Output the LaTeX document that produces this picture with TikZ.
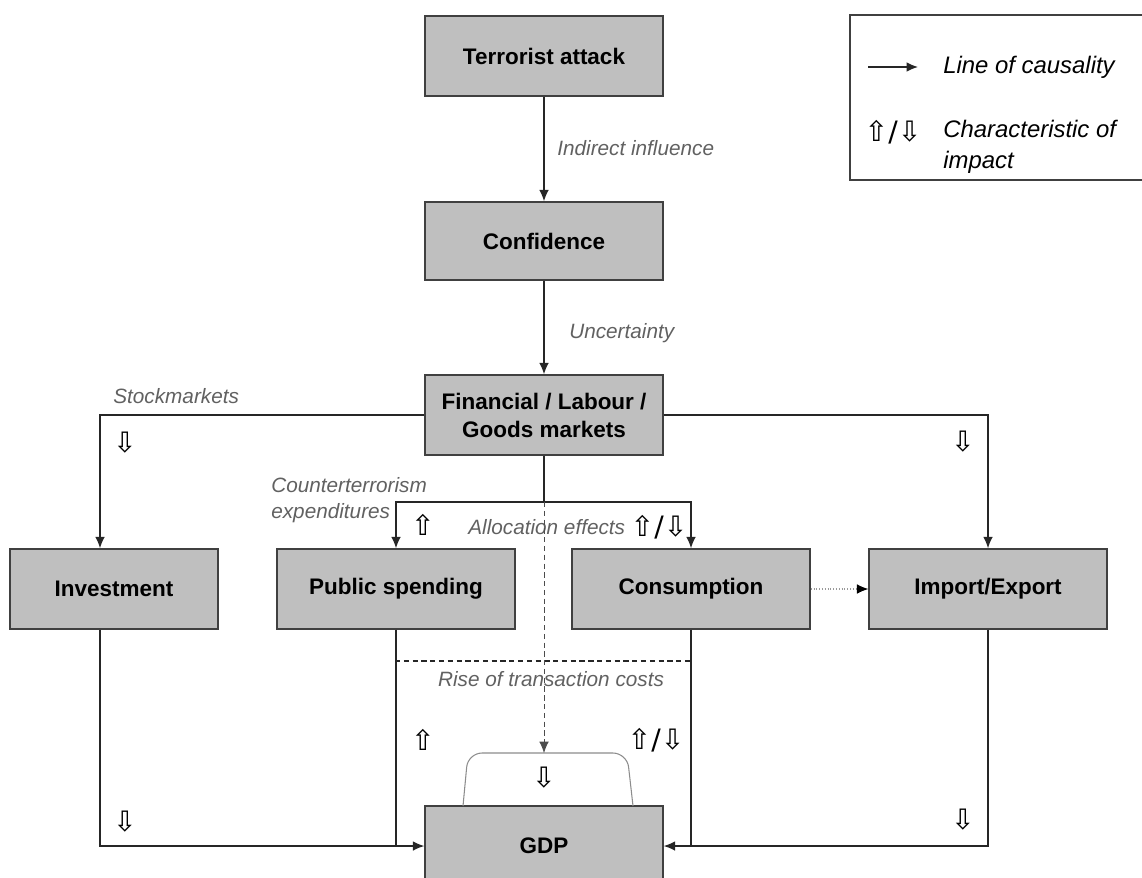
\documentclass[tikz,border=0pt]{standalone}
\usepackage{fontspec}
\setmainfont{Liberation Sans}
\newfontfamily\arrowfont{DejaVu Sans}
\usetikzlibrary{positioning,arrows.meta}
\tikzset{>={Latex[length=6.5pt,width=5.5pt]}}
\tikzset{
  box/.style={draw=black!75,fill=black!25,line width=0.8pt,minimum width=4.76cm,minimum height=1.6cm,
    align=center,inner sep=0pt,font=\fontsize{12.8}{15.9}\selectfont\bfseries},
  lbl/.style={inner sep=0pt,text=black!62,font=\fontsize{11.8}{14.5}\selectfont\itshape},
  legtext/.style={inner sep=0pt,align=left,font=\fontsize{13.6}{17.6}\selectfont\itshape},
  sym/.style={inner sep=0pt,font=\arrowfont\fontsize{16}{16}\selectfont},
  link/.style={line width=0.8pt,draw=black!85},
}

\begin{document}
\begin{tikzpicture}[x=0.02cm,y=-0.02cm]
\useasboundingbox (0,0) rectangle (1142,877);

% boxes
\node[box] (terror) at (544,56) {Terrorist attack};
\node[box,minimum height=1.56cm] (conf) at (544,241) {Confidence};
\node[box] (fin) at (544,415) {Financial / Labour /\\Goods markets};
\node[box,minimum width=4.16cm] (inv) at (114,589) {Investment};
\node[box] (pub) at (396,589) {Public spending};
\node[box] (cons) at (691,589) {Consumption};
\node[box] (imp) at (988,589) {Import/Export};
\node[box] (gdp) at (544,846) {GDP};

% top chain
\draw[link,->] (terror) -- (conf);
\node[lbl,anchor=west] (indirect) at (557,148) {Indirect influence};
\draw[link,->] (conf) -- (fin);
\node[lbl,anchor=west] (uncert) at (569,333) {Uncertainty};

% branches from the markets
\draw[link,->] (fin.west) -| ([xshift=-0.28cm]inv.north);
\node[lbl,anchor=west] (stock) at (113,396) {Stockmarkets};
\draw[link,->] (fin.east) -| (imp.north);
\coordinate (split) at (544,502);
\draw[link] (fin.south) -- (split);
\draw[link,->] (split) -| (pub.north);
\draw[link,->] (split) -| (cons.north);
\node[lbl,anchor=west,align=left] (counter) at (271,500) {Counterterrorism\\expenditures};
\node[lbl,anchor=west] (alloc) at (468,527) {Allocation effects};
\draw[-{Latex[length=6.5pt,width=5.5pt,black]},black!40,densely dotted,line width=0.6pt] (cons) -- (imp);

% into GDP
\draw[link,->] ([xshift=-0.28cm]inv.south) |- (gdp.west);
\draw[link] (pub.south) -- (pub.south |- gdp.west);
\draw[link,->] (imp.south) |- (gdp.east);
\draw[link] (cons.south) -- (cons.south |- gdp.east);
\coordinate (dashL) at (395,661);
\coordinate (dashR) at (692,661);
\draw[black!85,densely dashed,line width=0.7pt] (dashL) -- (dashR);
\node[lbl] (trans) at (551,679) {Rise of transaction costs};
\coordinate (archL) at (463,806);
\coordinate (archR) at (633,806);
\coordinate (archtop) at (544,753);
\draw[black!45,line width=0.6pt,rounded corners=8pt] (archL) -- (468,753) -- (627,753) -- (archR);
\draw[->,black!70,densely dashed,line width=0.5pt] (split) -- (archtop);

% impact signs
\node[sym] at (125,443) {⇩};
\node[sym] at (963,442) {⇩};
\node[sym] at (423,525) {⇧};
\node[sym] at (659,527) {⇧/⇩};
\node[sym] at (423,740) {⇧};
\node[sym] at (656,740) {⇧/⇩};
\node[sym] at (544,778) {⇩};
\node[sym] at (125,822) {⇩};
\node[sym] at (963,820) {⇩};

% legend
\draw[black!75,line width=0.8pt] (850,15) rectangle (1160,180);
\coordinate (legA) at (868,67);
\coordinate (legB) at (918,67);
\draw[link,->] (legA) -- (legB);
\node[legtext,anchor=west] (causal) at (943,67) {Line of causality};
\node[sym] (legsym) at (893,132) {⇧/⇩};
\node[legtext,anchor=west] (charac) at (943,147) {Characteristic of\\impact};
\end{tikzpicture}
\end{document}
